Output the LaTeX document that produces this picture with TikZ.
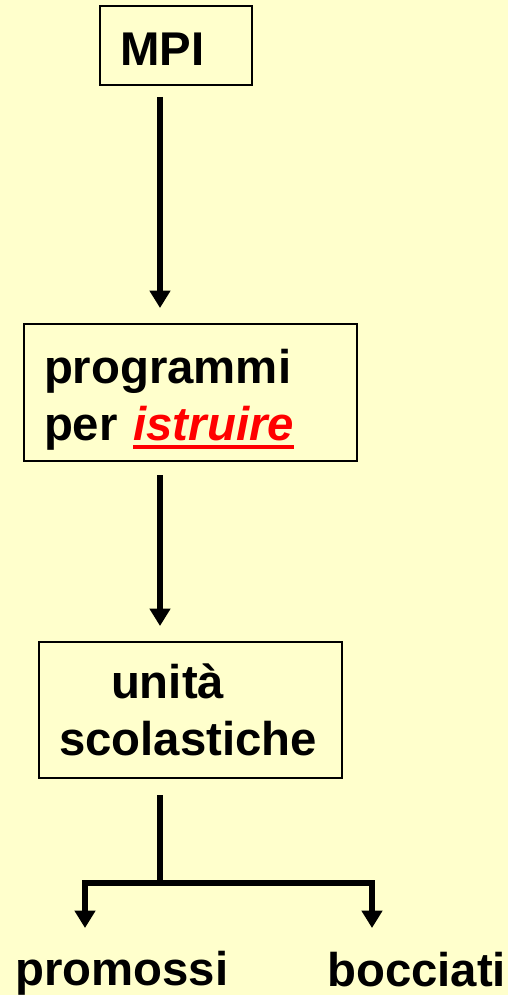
\documentclass[tikz,border=0pt]{standalone}
\usepackage{fontspec}
\setmainfont{Liberation Sans}
\usetikzlibrary{arrows.meta}
\definecolor{paleyellow}{HTML}{FFFFCC}
\definecolor{pptred}{HTML}{FF0000}
\newsavebox{\ulbox}
\newcommand{\redul}[1]{\sbox{\ulbox}{#1}\rlap{\rule[-6.75pt]{\wd\ulbox}{3pt}}\usebox{\ulbox}}

\begin{document}
\begin{tikzpicture}[
    x=0.75pt, y=-0.75pt,
    box/.style={rectangle, draw=black, line width=1.5pt, anchor=north west,
                outer sep=0pt, align=left, inner xsep=15pt, inner ysep=0pt,
                font=\fontsize{35.5}{42.75}\selectfont\bfseries},
    word/.style={anchor=base west, inner sep=0pt,
                 font=\fontsize{35.5}{42.75}\selectfont\bfseries},
    arrow/.style={->, >={Triangle[width=15pt,length=13pt]}, line width=3.8pt},
    link/.style={line width=3.8pt}
]
    \fill[paleyellow] (0,0) rectangle (508,995);
    \useasboundingbox (0,0) rectangle (508,995);

    \node[box, text width=84pt, minimum height=59.25pt] (mpi) at (100,6)
        {\rule{0pt}{30.5pt}MPI};
    \node[box, text width=219.75pt, minimum height=102.75pt] (prog) at (24,324)
        {\rule{0pt}{36.5pt}programmi\\per {\color{pptred}\itshape\redul{istruire}}};
    \node[box, text width=197.25pt, minimum height=102pt] (units) at (39,642)
        {\hspace*{1.1em}unità\\scolastiche};
    \node[word] (promossi) at (15,985) {promossi};
    \node[word] (bocciati) at (327,986) {bocciati};

    \coordinate (axis) at (160,0);
    \coordinate (split) at (160,883);
    \coordinate (passed) at (85,928);
    \coordinate (failed) at (372,928);

    \draw[arrow, shorten <=9pt, shorten >=12pt] (mpi.south -| axis) -- (prog.north -| axis);
    \draw[arrow, shorten <=10.5pt, shorten >=12pt] (prog.south -| axis) -- (units.north -| axis);
    \draw[link, shorten <=12.75pt] (units.south -| axis) -- (split);
    \draw[arrow] (split) -| (passed);
    \draw[arrow] (split) -| (failed);
\end{tikzpicture}
\end{document}
